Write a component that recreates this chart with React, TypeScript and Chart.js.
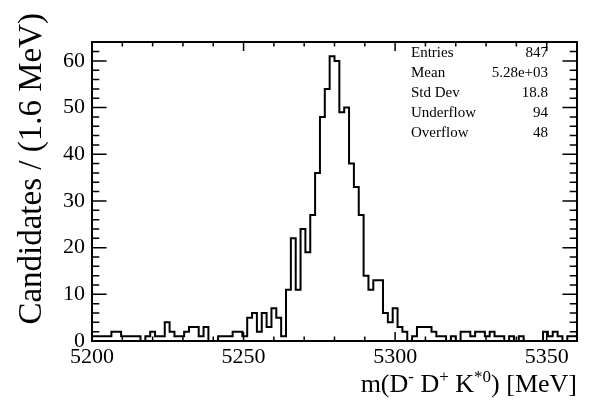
import React, { useEffect, useRef } from "react";
import { Chart, registerables } from "chart.js";

Chart.register(...registerables);

// ---- data ----
const X_MIN = 5200;
const X_MAX = 5360;
const BIN_WIDTH = 1.6;
const Y_MAX = 64.05;

// candidates per 1.6 MeV bin (100 bins, 5200 -> 5360 MeV)
const COUNTS = [
  1, 1, 1, 1, 1, 2, 2, 1, 1, 1,
  1, 0, 1, 2, 1, 1, 4, 2, 1, 1,
  2, 3, 3, 1, 3, 0, 0, 1, 1, 1,
  2, 2, 1, 5, 6, 2, 6, 3, 7, 5,
  1, 11, 22, 11, 24, 19, 27, 36, 48, 54,
  61, 60, 49, 50, 38, 33, 27, 14, 11, 13,
  13, 6, 4, 7, 3, 2, 0, 1, 3, 3,
  3, 2, 1, 1, 0, 1, 0, 2, 2, 1,
  2, 2, 1, 2, 1, 1, 0, 1, 0, 1,
  0, 0, 0, 0, 2, 1, 2, 1, 0, 1,
];

const X_MAJOR_TICKS = [5200, 5250, 5300, 5350];
const X_MINOR_STEP = 10;
const Y_MAJOR_TICKS = [0, 10, 20, 30, 40, 50, 60];
const Y_MINOR_STEP = 2;

const STATS_LABELS = ["Entries", "Mean", "Std Dev", "Underflow", "Overflow"];
const STATS_VALUES = ["847", "5.28e+03", "18.8", "94", "48"];

const Y_TITLE = "Candidates / (1.6 MeV)";

const FONT = '"Liberation Serif", "DejaVu Serif", serif';

const framePlugin = {
  id: "rootFrame",
  afterDraw(chart: any) {
    const ctx = chart.ctx as CanvasRenderingContext2D;
    const { left, right, top, bottom } = chart.chartArea;
    const xs = chart.scales.x;
    const ys = chart.scales.y;
    const w = right - left;
    const h = bottom - top;
    ctx.save();
    ctx.strokeStyle = "#000";
    ctx.fillStyle = "#000";
    ctx.lineWidth = 2;
    ctx.strokeRect(left, top, w, h);

    // x ticks (inward, bottom + top)
    const xMajLen = 0.03 * h;
    const xMinLen = 0.015 * h;
    ctx.lineWidth = 1.5;
    ctx.beginPath();
    for (let v = X_MIN; v <= X_MAX + 1e-6; v += X_MINOR_STEP) {
      const major = X_MAJOR_TICKS.includes(Math.round(v));
      const len = major ? xMajLen : xMinLen;
      const px = xs.getPixelForValue(v);
      ctx.moveTo(px, bottom);
      ctx.lineTo(px, bottom - len);
      ctx.moveTo(px, top);
      ctx.lineTo(px, top + len);
    }
    // y ticks (inward, left + right)
    const yMajLen = 0.03 * w;
    const yMinLen = 0.015 * w;
    for (let v = 0; v <= Y_MAX; v += Y_MINOR_STEP) {
      const major = Y_MAJOR_TICKS.includes(v);
      const len = major ? yMajLen : yMinLen;
      const py = ys.getPixelForValue(v);
      ctx.moveTo(left, py);
      ctx.lineTo(left + len, py);
      ctx.moveTo(right, py);
      ctx.lineTo(right - len, py);
    }
    ctx.stroke();

    // tick labels
    ctx.font = `22px ${FONT}`;
    ctx.textAlign = "center";
    ctx.textBaseline = "top";
    X_MAJOR_TICKS.forEach((v) => {
      ctx.fillText(String(v), xs.getPixelForValue(v), bottom + 5);
    });
    ctx.textAlign = "right";
    ctx.textBaseline = "middle";
    Y_MAJOR_TICKS.forEach((v) => {
      ctx.fillText(String(v), left - 7, ys.getPixelForValue(v));
    });

    // x title with superscripts, right aligned at frame end
    const big = 26;
    const small = 17;
    const segs: [string, boolean][] = [
      ["m(D", false],
      ["-", true],
      [" D", false],
      ["+", true],
      [" K", false],
      ["*0", true],
      [") [MeV]", false],
    ];
    let total = 0;
    segs.forEach(([t, sup]) => {
      ctx.font = `${sup ? small : big}px ${FONT}`;
      total += ctx.measureText(t).width;
    });
    let x = right - total;
    const base = 392;
    ctx.textAlign = "left";
    ctx.textBaseline = "alphabetic";
    segs.forEach(([t, sup]) => {
      ctx.font = `${sup ? small : big}px ${FONT}`;
      ctx.fillText(t, x, sup ? base - 10 : base);
      x += ctx.measureText(t).width;
    });

    // y title rotated
    ctx.save();
    ctx.translate(41, 13);
    ctx.rotate(-Math.PI / 2);
    ctx.font = `33px ${FONT}`;
    ctx.textAlign = "right";
    ctx.textBaseline = "alphabetic";
    ctx.fillText(Y_TITLE, 0, 0);
    ctx.restore();

    // stats box
    ctx.font = `15px ${FONT}`;
    ctx.textBaseline = "middle";
    STATS_LABELS.forEach((lab, i) => {
      const yy = 53 + i * 20;
      ctx.textAlign = "left";
      ctx.fillText(lab, 411, yy);
      ctx.textAlign = "right";
      ctx.fillText(STATS_VALUES[i], 548, yy);
    });
    ctx.restore();
  },
};

export default function App() {
  const ref = useRef<HTMLCanvasElement | null>(null);
  useEffect(() => {
    if (!ref.current) return;
    const points = COUNTS.map((c, i) => ({ x: X_MIN + i * BIN_WIDTH, y: c }));
    points.push({ x: X_MAX, y: COUNTS[COUNTS.length - 1] });
    const chart = new Chart(ref.current, {
      type: "line",
      data: {
        datasets: [
          {
            data: points,
            stepped: "after",
            borderColor: "#000",
            borderWidth: 2,
            pointRadius: 0,
            fill: false,
          },
        ],
      },
      options: {
        responsive: false,
        animation: false,
        layout: { padding: { left: 92, right: 14, top: 42, bottom: 59 } },
        plugins: { legend: { display: false }, tooltip: { enabled: false } },
        scales: {
          x: { type: "linear", min: X_MIN, max: X_MAX, display: false },
          y: { type: "linear", min: 0, max: Y_MAX, display: false },
        },
      },
      plugins: [framePlugin],
    });
    return () => chart.destroy();
  }, []);
  return (
    <div style={{ position: "fixed", left: 0, top: 0, width: 591, height: 400, background: "#fff" }}>
      <canvas ref={ref} width={591} height={400} style={{ width: 591, height: 400 }} />
    </div>
  );
}
